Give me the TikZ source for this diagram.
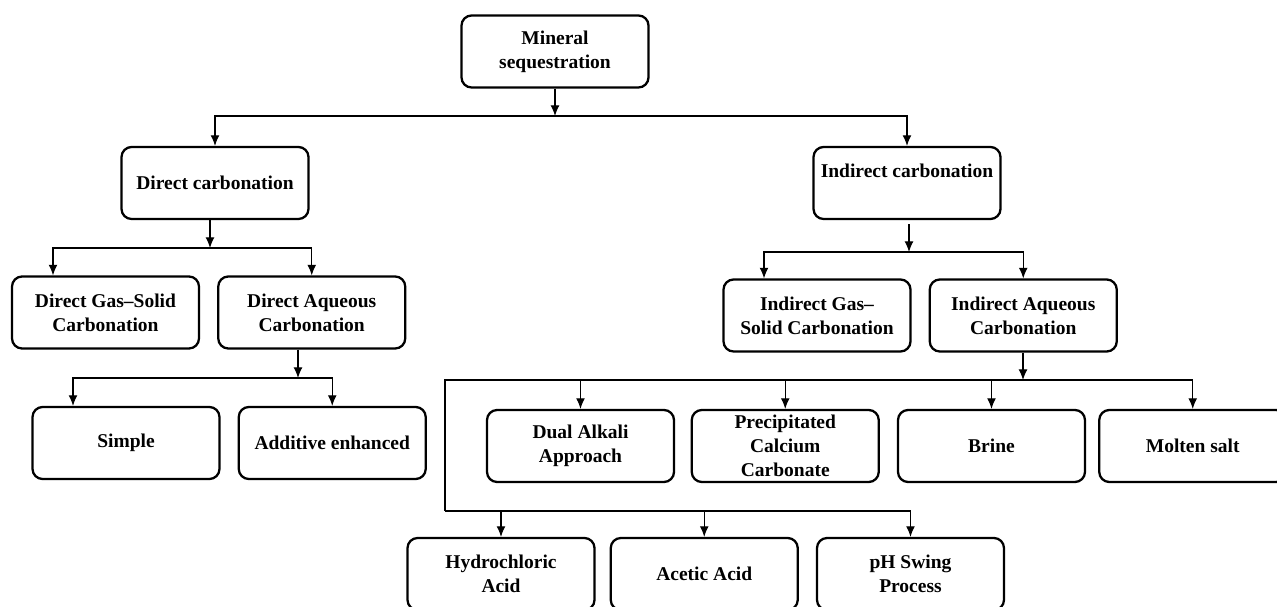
\documentclass[tikz,border=0pt]{standalone}
\usepackage{fontspec}
\setmainfont{Liberation Serif}
\usepackage{tikz}
\usetikzlibrary{arrows.meta,positioning}

\begin{document}
\begin{tikzpicture}[
    x=0.02cm, y=-0.02cm,
    node distance=0.34cm,
    stage/.style={rectangle, draw, line width=1.3pt, rounded corners=0.2cm, minimum width=3.74cm, minimum height=1.44cm, inner sep=1pt, align=center, font=\fontsize{11.1}{13.5}\selectfont\bfseries},
    arrow/.style={-{Latex[length=6pt,width=5pt]}, line width=0.6pt},
    line/.style={line width=0.6pt}
]
\clip (0,0) rectangle (1277,607);

\node[stage] (ms) at (555,51.5) {Mineral\\sequestration};

\node[stage] (dc) at (215,183) {Direct carbonation};
\node[stage] (ic) at (907,183) {Indirect carbonation\\\mbox{}};

\node[stage] (dgs) at (105.5,312.5) {Direct Gas--Solid\\Carbonation};
\node[stage, right=of dgs] (daq) {Direct Aqueous\\Carbonation};

\node[stage] (smp) at (126,443) {Simple};
\node[stage, right=of smp] (add) {Additive enhanced};

\node[stage] (igs) at (817,315.5) {Indirect Gas--\\Solid Carbonation};
\node[stage, right=of igs] (iaq) {Indirect Aqueous\\Carbonation};

\node[stage] (dal) at (580.5,446) {Dual Alkali\\Approach};
\node[stage, right=0.31cm of dal] (pcc) {Precipitated\\Calcium\\Carbonate};
\node[stage, right=0.34cm of pcc] (brn) {Brine};
\node[stage, right=0.24cm of brn] (mol) {Molten salt};

\node[stage] (hcl) at (501,574) {Hydrochloric\\Acid};
\node[stage, right=0.28cm of hcl] (aca) {Acetic Acid};
\node[stage, right=0.34cm of aca] (phs) {pH Swing\\Process};

% junctions
\coordinate (j1) at (555,116);
\coordinate (j2) at (210,248);
\coordinate (j3) at (298,378);
\coordinate (j4) at (909,252);
\coordinate (j5) at (1023,380);
\coordinate (j6) at (445,511);

\draw[arrow] (ms) -- (j1);
\draw[arrow] (j1) -| (dc);
\draw[arrow] (j1) -| (ic);

\draw[arrow] (j2 |- dc.south) -- (j2);
\draw[arrow] (j2) -| ([xshift=-1.05cm]dgs.north);
\draw[arrow] (j2) -| (daq);

\draw[arrow] (j3 |- daq.south) -- (j3);
\draw[arrow] (j3) -| ([xshift=-1.06cm]smp.north);
\draw[arrow] (j3) -| (add);

\draw[arrow, shorten <=0.08cm] (j4 |- ic.south) -- (j4);
\draw[arrow] (j4) -| ([xshift=-1.06cm]igs.north);
\draw[arrow] (j4) -| (iaq);

\draw[arrow] (j5 |- iaq.south) -- (j5);
\draw[arrow] (j5) -| (dal);
\draw[arrow] (j5) -| (pcc);
\draw[arrow] (j5) -| (brn);
\draw[arrow] (j5) -| (mol);
\draw[line] (j5) -| (j6);
\draw[arrow] (j6) -| (hcl);
\draw[arrow] (j6) -| (aca);
\draw[arrow] (j6) -| (phs);

\end{tikzpicture}
\end{document}
